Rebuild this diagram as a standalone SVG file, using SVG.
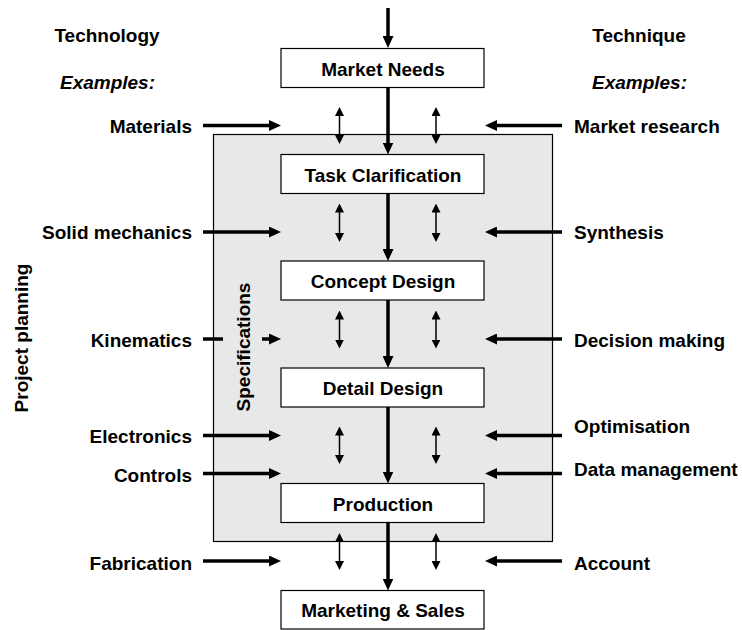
<svg xmlns="http://www.w3.org/2000/svg" width="742" height="630" viewBox="0 0 742 630">
  <style>
    text { font-family: "Liberation Sans", Arial, sans-serif; font-weight: bold; font-size: 19px; fill: #000; }
    .it { font-style: italic; }
    .mid { text-anchor: middle; }
    .end { text-anchor: end; }
    .box { fill: #fff; stroke: #000; stroke-width: 1.2; }
    .panel { fill: #e8e8e8; stroke: #000; stroke-width: 1.2; }
    .flow { stroke: #000; stroke-width: 3.5; fill: none; marker-end: url(#head); }
    .side { stroke: #000; stroke-width: 3.5; fill: none; }
    .side.arr { marker-end: url(#head); }
    .link { stroke: #000; stroke-width: 1.5; fill: none; marker-start: url(#tip); marker-end: url(#tip); }
  </style>
  <defs>
    <marker id="head" markerUnits="userSpaceOnUse" markerWidth="12" markerHeight="11" viewBox="0 0 12 11" refX="1" refY="5.5" orient="auto">
      <path d="M0,0 L12,5.5 L0,11 z" fill="#000"/>
    </marker>
    <marker id="tip" markerUnits="userSpaceOnUse" markerWidth="9" markerHeight="9" viewBox="0 0 9 9" refX="1" refY="4.5" orient="auto-start-reverse">
      <path d="M0,0 L9,4.5 L0,9 z" fill="#000"/>
    </marker>
  </defs>

  <!-- background panel with the specification stages -->
  <g id="specifications">
    <rect class="panel" x="213.5" y="134.5" width="339" height="407"/>
    <text class="mid" transform="translate(250,347) rotate(-90)">Specifications</text>
  </g>

  <!-- side headings -->
  <g id="headings">
    <text class="mid" x="107" y="42">Technology</text>
    <text class="mid it" x="107.5" y="89">Examples:</text>
    <text class="mid" x="639" y="42">Technique</text>
    <text class="mid it" x="639.5" y="89">Examples:</text>
    <text class="mid" transform="translate(27.5,338) rotate(-90)">Project planning</text>
  </g>

  <!-- technology inputs -->
  <g id="technology">
    <text class="end" x="192" y="133.3">Materials</text>
    <text class="end" x="192" y="238.5">Solid mechanics</text>
    <text class="end" x="192" y="346.5">Kinematics</text>
    <text class="end" x="192" y="443">Electronics</text>
    <text class="end" x="192" y="481.5">Controls</text>
    <text class="end" x="192" y="570">Fabrication</text>
  </g>

  <!-- technique inputs -->
  <g id="technique">
    <text x="574" y="133.3">Market research</text>
    <text x="574" y="238.5">Synthesis</text>
    <text x="574" y="346.5">Decision making</text>
    <text x="574" y="433.3">Optimisation</text>
    <text x="574" y="476">Data management</text>
    <text x="574" y="570">Account</text>
  </g>

  <!-- design stages -->
  <g id="market-needs">
    <rect class="box" x="281" y="48.5" width="203" height="39"/>
    <text class="mid" x="383" y="75.5">Market Needs</text>
  </g>
  <g id="task-clarification">
    <rect class="box" x="281" y="154.5" width="203" height="39"/>
    <text class="mid" x="383" y="181.5">Task Clarification</text>
  </g>
  <g id="concept-design">
    <rect class="box" x="281" y="261" width="203" height="39"/>
    <text class="mid" x="383" y="288.3">Concept Design</text>
  </g>
  <g id="detail-design">
    <rect class="box" x="281" y="368" width="203" height="39"/>
    <text class="mid" x="383" y="394.8">Detail Design</text>
  </g>
  <g id="production">
    <rect class="box" x="281" y="483.5" width="203" height="39"/>
    <text class="mid" x="383" y="511.3">Production</text>
  </g>
  <g id="marketing-sales">
    <rect class="box" x="281" y="590.5" width="203" height="38.5"/>
    <text class="mid" x="383" y="617.3">Marketing &amp; Sales</text>
  </g>

  <g id="connectors">
    <!-- main flow -->
    <line class="flow" x1="388" y1="8" x2="388" y2="37"/>
    <line class="flow" x1="388" y1="87.5" x2="388" y2="143.5"/>
    <line class="flow" x1="388" y1="193.5" x2="388" y2="250"/>
    <line class="flow" x1="388" y1="300" x2="388" y2="357"/>
    <line class="flow" x1="388" y1="407" x2="388" y2="472.5"/>
    <line class="flow" x1="388" y1="522.5" x2="388" y2="579.5"/>

    <!-- two-way feedback links -->
    <line class="link" x1="339.5" y1="115" x2="339.5" y2="136"/>
    <line class="link" x1="436" y1="115" x2="436" y2="136"/>
    <line class="link" x1="339.5" y1="211.5" x2="339.5" y2="234"/>
    <line class="link" x1="436" y1="211.5" x2="436" y2="234"/>
    <line class="link" x1="339.5" y1="318.5" x2="339.5" y2="340.5"/>
    <line class="link" x1="436" y1="318.5" x2="436" y2="340.5"/>
    <line class="link" x1="339.5" y1="434.5" x2="339.5" y2="456"/>
    <line class="link" x1="436" y1="434.5" x2="436" y2="456"/>
    <line class="link" x1="339.5" y1="541" x2="339.5" y2="562"/>
    <line class="link" x1="436" y1="541" x2="436" y2="562"/>

    <!-- technology arrows -->
    <line class="side arr" x1="203" y1="125.5" x2="270" y2="125.5"/>
    <line class="side arr" x1="203" y1="232" x2="270" y2="232"/>
    <line class="side" x1="203" y1="339" x2="223" y2="339"/>
    <line class="side arr" x1="262" y1="339" x2="270" y2="339"/>
    <line class="side arr" x1="203" y1="435.5" x2="270" y2="435.5"/>
    <line class="side arr" x1="203" y1="473.5" x2="270" y2="473.5"/>
    <line class="side arr" x1="203" y1="561" x2="270" y2="561"/>

    <!-- technique arrows -->
    <line class="side arr" x1="562" y1="125.5" x2="496" y2="125.5"/>
    <line class="side arr" x1="562" y1="232" x2="496" y2="232"/>
    <line class="side arr" x1="562" y1="339" x2="496" y2="339"/>
    <line class="side arr" x1="562" y1="435.5" x2="496" y2="435.5"/>
    <line class="side arr" x1="562" y1="473.5" x2="496" y2="473.5"/>
    <line class="side arr" x1="562" y1="561" x2="496" y2="561"/>
  </g>
</svg>
